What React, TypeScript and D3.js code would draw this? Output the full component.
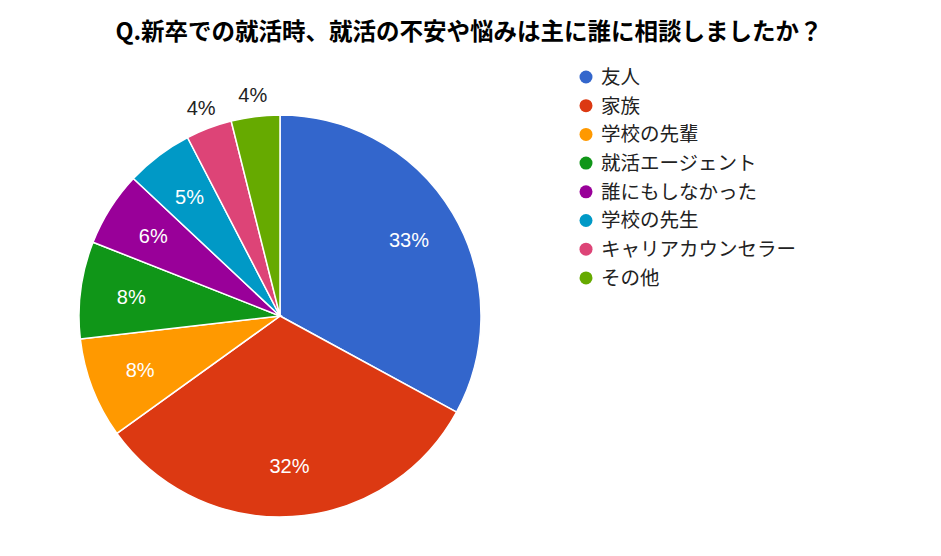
import React from "react";
import * as d3 from "d3";

const categories = ["友人", "家族", "学校の先輩", "就活エージェント", "誰にもしなかった", "学校の先生", "キャリアカウンセラー", "その他"];
const values = [32.9, 32.1, 8.1, 7.8, 6.0, 5.4, 3.7, 3.9];
const colors = ["#3366cc", "#dc3912", "#ff9900", "#109618", "#990099", "#0099c6", "#dd4477", "#66aa00"];
const title = "Q.新卒での就活時、就活の不安や悩みは主に誰に相談しましたか？";

const W = 941, H = 556;
const cx = 280, cy = 316, R = 201;
const font = "'Noto Sans CJK JP', 'Noto Sans', Arial, sans-serif";
const numFont = "'Liberation Sans', Arial, sans-serif";

export default function App() {
  const total = d3.sum(values);
  const pie = d3.pie<number>().sort(null).value((d) => d);
  const arcs = pie(values);
  const arc = d3.arc<d3.PieArcDatum<number>>().innerRadius(0).outerRadius(R);
  const inLabel = d3.arc<d3.PieArcDatum<number>>().innerRadius(150).outerRadius(150);
  const outLabel = d3.arc<d3.PieArcDatum<number>>().innerRadius(223).outerRadius(223);
  const legendY = d3.scaleLinear().domain([0, 1]).range([77, 105.7]);

  return (
    <svg width={W} height={H} style={{ position: "absolute", left: 0, top: 0, background: "#fff" }}>
      <text x={469} y={40} textAnchor="middle" fontFamily={font} fontWeight="bold" fontSize={23.5} fill="#000">
        {title}
      </text>
      <g transform={`translate(${cx},${cy})`}>
        {arcs.map((a, i) => (
          <path key={i} d={arc(a) || ""} fill={colors[i]} stroke="#fff" strokeWidth={1.5} />
        ))}
        {arcs.map((a, i) => {
          const pct = Math.round((a.data / total) * 100);
          const outside = a.data / total < 0.045;
          const [x, y] = outside ? outLabel.centroid(a) : inLabel.centroid(a);
          return (
            <text key={i} x={x} y={y} dy="0.36em" textAnchor="middle" fontFamily={numFont} fontSize={20}
              fill={outside ? "#222" : "#fff"}>
              {pct}%
            </text>
          );
        })}
      </g>
      <g>
        {categories.map((c, i) => (
          <g key={i} transform={`translate(0,${legendY(i)})`}>
            <circle cx={586} cy={0} r={6.5} fill={colors[i]} />
            <text x={601} y={0} dy="0.35em" fontFamily={font} fontSize={19.5} fill="#222">
              {c}
            </text>
          </g>
        ))}
      </g>
    </svg>
  );
}
